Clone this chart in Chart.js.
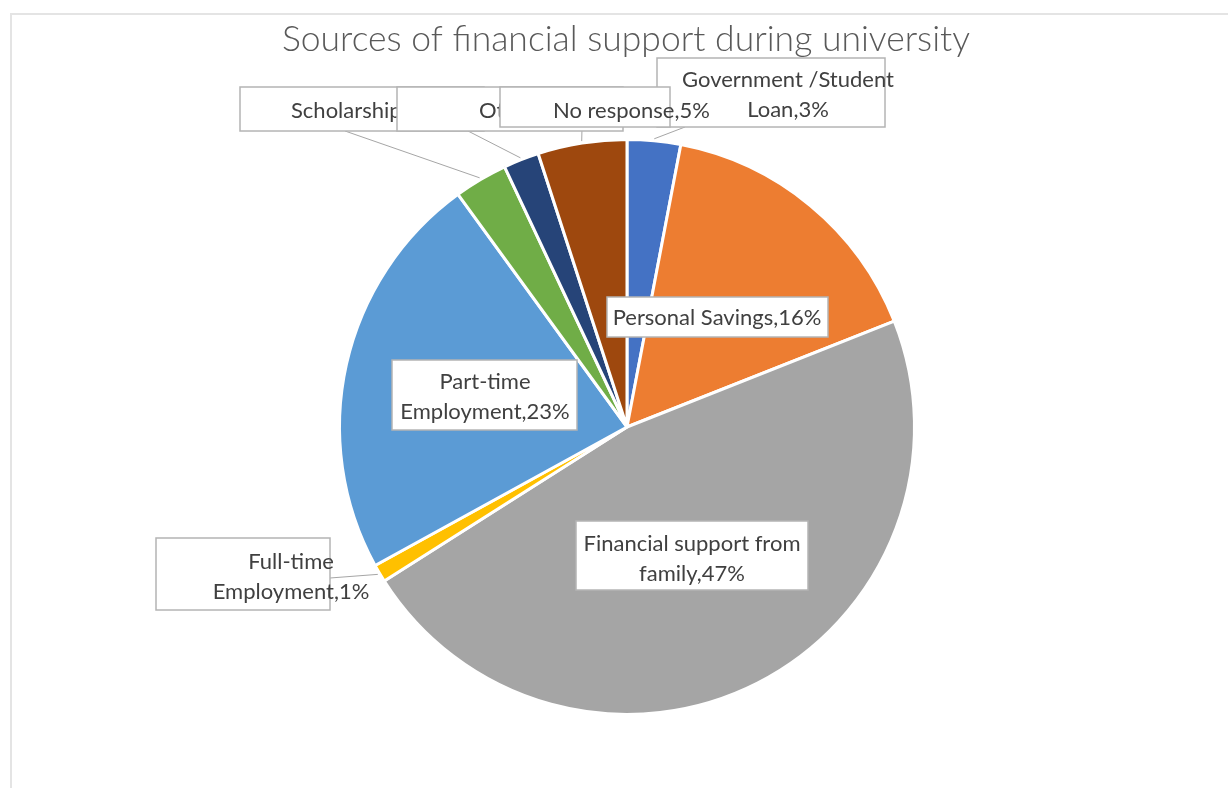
<!DOCTYPE html>
<html>
<head>
<meta charset="utf-8">
<title>Sources of financial support during university</title>
<script src="https://cdn.jsdelivr.net/npm/chart.js@4.4.0/dist/chart.umd.min.js"></script>
<style>
  html, body { margin: 0; padding: 0; background: #fff; }
  #wrap { position: relative; width: 1228px; height: 788px; }
</style>
</head>
<body>
<div id="wrap"><canvas id="pieChart"></canvas></div>
<script>
// chart data
const chartTitle = 'Sources of financial support during university';
const categories = [
    'Government /Student Loan',
    'Personal Savings',
    'Financial support from family',
    'Full-time Employment',
    'Part-time Employment',
    'Scholarship',
    'Other',
    'No response'
];
const shares = [3, 16, 47, 1, 23, 3, 2, 5];
const sliceColors = ['#4472C4', '#ED7D31', '#A5A5A5', '#FFC000', '#5B9BD5', '#70AD47', '#264478', '#9E480E'];

// label boxes, offsets from the pie centre (box x, y, w, h / text x, y / words on line 1 / leader end)
const labelLayout = [
    { box: [30, -369, 228, 69], tx: 161, ty: -347, wrap: 2, leader: [58, -300] },
    { box: [-20, -130, 221, 40], tx: 90, ty: -109, wrap: 0 },
    { box: [-51, 94, 232, 69], tx: 65, ty: 117, wrap: 3 },
    { box: [-471, 111, 174, 72], tx: -336, ty: 135, wrap: 1, leader: [-297, 151] },
    { box: [-235, -67, 185, 70], tx: -142, ty: -45, wrap: 1 },
    { box: [-387, -340, 244, 44], tx: -336, ty: -316, wrap: 0, align: 'left', leader: [-282, -296] },
    { box: [-230, -340, 226, 44], tx: -148, ty: -316, wrap: 0, align: 'left', leader: [-159, -296] },
    { box: [-127, -340, 170, 40], tx: -74, ty: -316, wrap: 0, align: 'left', leader: [-45, -300] }
];
// order the boxes are painted in (later ones cover earlier ones)
const drawOrder = [1, 2, 3, 4, 5, 6, 0, 7];

const labelPlugin = {
    id: 'boxLabels',
    beforeDraw(chart) {
        const ctx = chart.ctx;
        ctx.save();
        ctx.fillStyle = '#fff';
        ctx.fillRect(0, 0, chart.width, chart.height);
        // faint frame on the left and top
        ctx.strokeStyle = '#e4e4e4';
        ctx.lineWidth = 2;
        ctx.beginPath();
        ctx.moveTo(11, chart.height);
        ctx.lineTo(11, 14);
        ctx.lineTo(chart.width, 14);
        ctx.stroke();
        // title
        ctx.fillStyle = '#595959';
        ctx.font = '300 35.5px Lato';
        ctx.textAlign = 'center';
        ctx.textBaseline = 'alphabetic';
        ctx.fillText(chartTitle, 626, 51);
        ctx.restore();
    },
    afterDatasetsDraw(chart) {
        const ctx = chart.ctx;
        const arcs = chart.getDatasetMeta(0).data;
        const total = shares.reduce((a, b) => a + b, 0);
        ctx.save();

        // leader lines first, underneath the boxes
        ctx.strokeStyle = '#a6a6a6';
        ctx.lineWidth = 1;
        labelLayout.forEach((L, i) => {
            if (!L.leader) return;
            const arc = arcs[i];
            const mid = (arc.startAngle + arc.endAngle) / 2;
            const r = arc.outerRadius + 2;
            ctx.beginPath();
            ctx.moveTo(arc.x + Math.cos(mid) * r, arc.y + Math.sin(mid) * r);
            ctx.lineTo(arc.x + L.leader[0], arc.y + L.leader[1]);
            ctx.stroke();
        });

        ctx.font = '22px Lato';
        ctx.textBaseline = 'middle';
        drawOrder.forEach(i => {
            const arc = arcs[i];
            const L = labelLayout[i];
            const cx = arc.x, cy = arc.y;
            const [bx, by, bw, bh] = L.box;
            ctx.fillStyle = '#fff';
            ctx.fillRect(cx + bx, cy + by, bw, bh);
            ctx.strokeStyle = '#b4b4b4';
            ctx.lineWidth = 1.5;
            ctx.strokeRect(cx + bx, cy + by, bw, bh);

            const pct = Math.round(shares[i] / total * 100);
            const words = (categories[i] + ',' + pct + '%').split(' ');
            const lines = L.wrap ? [words.slice(0, L.wrap).join(' '), words.slice(L.wrap).join(' ')] : [words.join(' ')];
            ctx.fillStyle = '#404040';
            ctx.textAlign = L.align || 'center';
            lines.forEach((line, k) => {
                ctx.fillText(line, cx + L.tx, cy + L.ty + k * 30);
            });
        });
        ctx.restore();
    }
};

const ctx = document.getElementById('pieChart').getContext('2d');
const pieChart = new Chart(ctx, {
    type: 'pie',
    data: {
        labels: categories,
        datasets: [{
            data: shares,
            backgroundColor: sliceColors,
            borderColor: '#ffffff',
            borderWidth: 3
        }]
    },
    options: {
        responsive: true,
        maintainAspectRatio: false,
        animation: false,
        layout: {
            padding: { left: 338, right: 312, top: 138, bottom: 72 }
        },
        plugins: {
            legend: { display: false },
            tooltip: { enabled: false }
        }
    },
    plugins: [labelPlugin]
});
</script>
</body>
</html>
